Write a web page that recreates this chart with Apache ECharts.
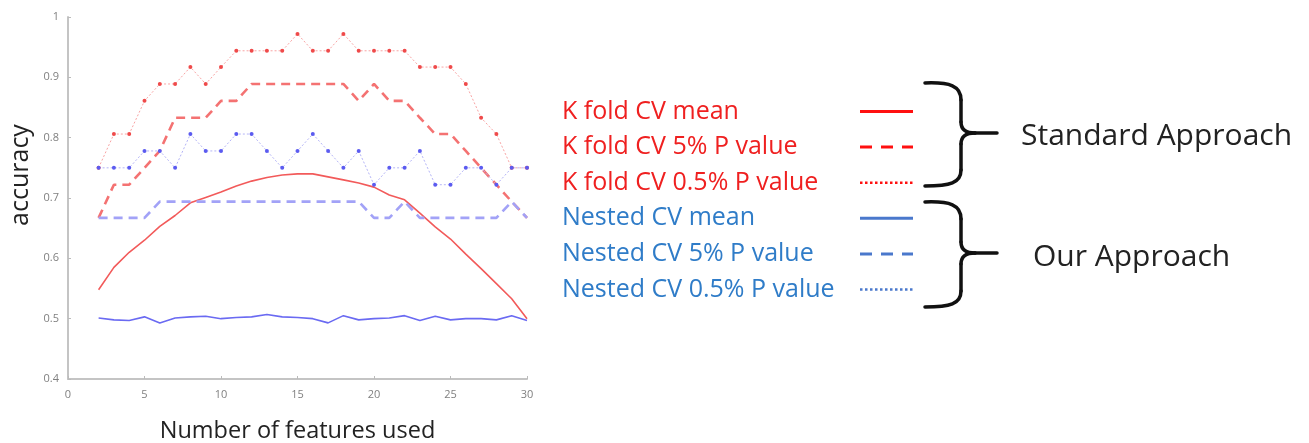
<!DOCTYPE html>
<html><head><meta charset="utf-8">
<script src="https://cdn.jsdelivr.net/npm/echarts@6/dist/echarts.min.js"></script>
<style>html,body{margin:0;padding:0;background:#fff}#c{width:1309px;height:443px}</style>
</head><body><div id="c"></div>
<script>
const features = [2,3,4,5,6,7,8,9,10,11,12,13,14,15,16,17,18,19,20,21,22,23,24,25,26,27,28,29,30];
const kfoldMean = [0.548,0.585,0.61,0.63,0.653,0.671,0.692,0.701,0.71,0.72,0.728,0.734,0.738,0.740,0.740,0.735,0.730,0.725,0.718,0.705,0.697,0.675,0.652,0.632,0.607,0.583,0.558,0.533,0.5];
const kfold5 = [0.667,0.722,0.722,0.75,0.778,0.833,0.833,0.833,0.861,0.861,0.889,0.889,0.889,0.889,0.889,0.889,0.889,0.861,0.889,0.861,0.861,0.833,0.806,0.806,0.778,0.75,0.722,0.694,0.667];
const kfold05 = [0.75,0.806,0.806,0.861,0.889,0.889,0.917,0.889,0.917,0.944,0.944,0.944,0.944,0.972,0.944,0.944,0.972,0.944,0.944,0.944,0.944,0.917,0.917,0.917,0.889,0.833,0.806,0.75,0.75];
const nestedMean = [0.501,0.498,0.497,0.503,0.493,0.501,0.503,0.504,0.5,0.502,0.503,0.507,0.503,0.502,0.5,0.493,0.505,0.498,0.5,0.501,0.505,0.497,0.504,0.498,0.5,0.5,0.498,0.505,0.497];
const nested5 = [0.667,0.667,0.667,0.667,0.694,0.694,0.694,0.694,0.694,0.694,0.694,0.694,0.694,0.694,0.694,0.694,0.694,0.694,0.667,0.667,0.694,0.667,0.667,0.667,0.667,0.667,0.667,0.694,0.667];
const nested05 = [0.75,0.75,0.75,0.778,0.778,0.75,0.806,0.778,0.778,0.806,0.806,0.778,0.75,0.778,0.806,0.778,0.75,0.778,0.722,0.75,0.75,0.778,0.722,0.722,0.75,0.75,0.722,0.75,0.75];
const names = ['K fold CV mean','K fold CV 5% P value','K fold CV 0.5% P value','Nested CV mean','Nested CV 5% P value','Nested CV 0.5% P value'];
const xAxisTitle = 'Number of features used';
const yAxisTitle = 'accuracy';
const groupLabels = ['Standard Approach','Our Approach'];

const pairs = v => features.map((x,i)=>[x,v[i]]);
const chart = echarts.init(document.getElementById('c'));
const FONT = '"Open Sans", "Noto Sans", sans-serif';
const RED_TXT = '#ef2020', BLUE_TXT = '#2f7cc8';
const legendLine = [
  {color:'#ff1010', width:3, type:'solid'},
  {color:'#ff1010', width:3, type:[12,9]},
  {color:'#ff1010', width:2.5, type:[2.5,2.5]},
  {color:'#4a78cc', width:3, type:'solid'},
  {color:'#4a78cc', width:3, type:[12,9]},
  {color:'#4a78cc', width:2.5, type:[2.5,2.5]}
];
// curly brace built from simple graphic pieces
function brace(x0, xv, xt, yTop, yMid, yBot){
  const st = {stroke:'#111', lineWidth:3.5, fill:null, lineCap:'round'};
  const bz = (x1,y1,c1x,c1y,c2x,c2y,x2,y2)=>({type:'bezierCurve', shape:{x1,y1,cpx1:c1x,cpy1:c1y,cpx2:c2x,cpy2:c2y,x2,y2}, style:st});
  const ln = (x1,y1,x2,y2)=>({type:'line', shape:{x1,y1,x2,y2}, style:st});
  return [
    bz(x0,yTop, x0+25,yTop-1, xv,yTop+3, xv,yTop+17),
    ln(xv,yTop+17, xv,yMid-11),
    bz(xv,yMid-11, xv,yMid-3, xv+5,yMid, xv+14,yMid),
    ln(xv+14,yMid, xt,yMid),
    bz(xv+14,yMid, xv+5,yMid, xv,yMid+3, xv,yMid+11),
    ln(xv,yMid+11, xv,yBot-16),
    bz(xv,yBot-16, xv,yBot-3, x0+25,yBot, x0,yBot)
  ];
}
const LF = 25;
chart.setOption({
  animation:false,
  backgroundColor:'#fff',
  grid:{left:68, top:17, right:782, bottom:64, outerBoundsMode:'none', containLabel:false},
  xAxis:{type:'value', min:0, max:30, interval:5,
    name:xAxisTitle, nameLocation:'middle', nameGap:40,
    nameTextStyle:{fontFamily:FONT, fontSize:23.5, color:'#222'},
    axisLine:{lineStyle:{color:'#c4c4c4', width:2}},
    axisTick:{inside:true, length:3, lineStyle:{color:'#bbb'}},
    axisLabel:{color:'#808080', fontSize:11, margin:10, fontFamily:FONT},
    splitLine:{show:false}},
  yAxis:{type:'value', min:0.4, max:1, interval:0.1,
    name:yAxisTitle, nameLocation:'middle', nameGap:35, nameRotate:90,
    nameTextStyle:{fontFamily:FONT, fontSize:25, color:'#222', padding:[0,0,0,46]},
    axisLine:{show:true, lineStyle:{color:'#c4c4c4', width:2}},
    axisTick:{show:true, inside:true, length:3, lineStyle:{color:'#bbb'}},
    axisLabel:{color:'#808080', fontSize:11, margin:9, fontFamily:FONT},
    splitLine:{show:false}},
  legend:{orient:'vertical', left:557, top:94, align:'right', itemWidth:53, itemHeight:12, itemGap:10.6,
    itemStyle:{opacity:0},
    formatter: n => '{a|' + n + '}',
    textStyle:{fontFamily:FONT, fontSize:LF, lineHeight:24,
      rich:{a:{width:293, align:'left', fontFamily:FONT, fontSize:LF, lineHeight:24}}},
    data: names.map((n,i)=>({name:n, lineStyle:legendLine[i],
      textStyle:{color: i<3?RED_TXT:BLUE_TXT, rich:{a:{width:293, align:'left', fontSize:LF, lineHeight:24, fontFamily:FONT, color:i<3?RED_TXT:BLUE_TXT}}}}))
  },
  series:[
    {name:names[0], type:'line', data:pairs(kfoldMean), showSymbol:false, symbol:'none', color:'#f05050',
      lineStyle:{color:'#f25a5a', width:1.6}},
    {name:names[1], type:'line', data:pairs(kfold5), showSymbol:false, symbol:'none', color:'#f05050',
      lineStyle:{color:'#f47272', width:2.6, type:[9,6]}},
    {name:names[2], type:'line', data:pairs(kfold05), symbol:'circle', symbolSize:4, color:'#ee3a3a',
      itemStyle:{color:'#ef4a4a'}, lineStyle:{color:'#f9a4a4', width:1, type:[2,2]}},
    {name:names[3], type:'line', data:pairs(nestedMean), showSymbol:false, symbol:'none', color:'#6060f0',
      lineStyle:{color:'#6a6af2', width:1.6}},
    {name:names[4], type:'line', data:pairs(nested5), showSymbol:false, symbol:'none', color:'#8f8ff5',
      lineStyle:{color:'#a2a2f7', width:2.6, type:[9,6]}},
    {name:names[5], type:'line', data:pairs(nested05), symbol:'circle', symbolSize:4, color:'#5050ee',
      itemStyle:{color:'#5b5bf0'}, lineStyle:{color:'#b4b4f7', width:1, type:[2,2]}}
  ],
  graphic:[
    ...brace(925, 961, 997, 83, 133, 186),
    ...brace(925, 961, 997, 202, 253, 307),
    {type:'text', left:1021, top:121, style:{text:groupLabels[0], fontFamily:FONT, fontSize:30, fill:'#222'}},
    {type:'text', left:1033, top:242, style:{text:groupLabels[1], fontFamily:FONT, fontSize:30, fill:'#222'}}
  ]
});
</script></body></html>
